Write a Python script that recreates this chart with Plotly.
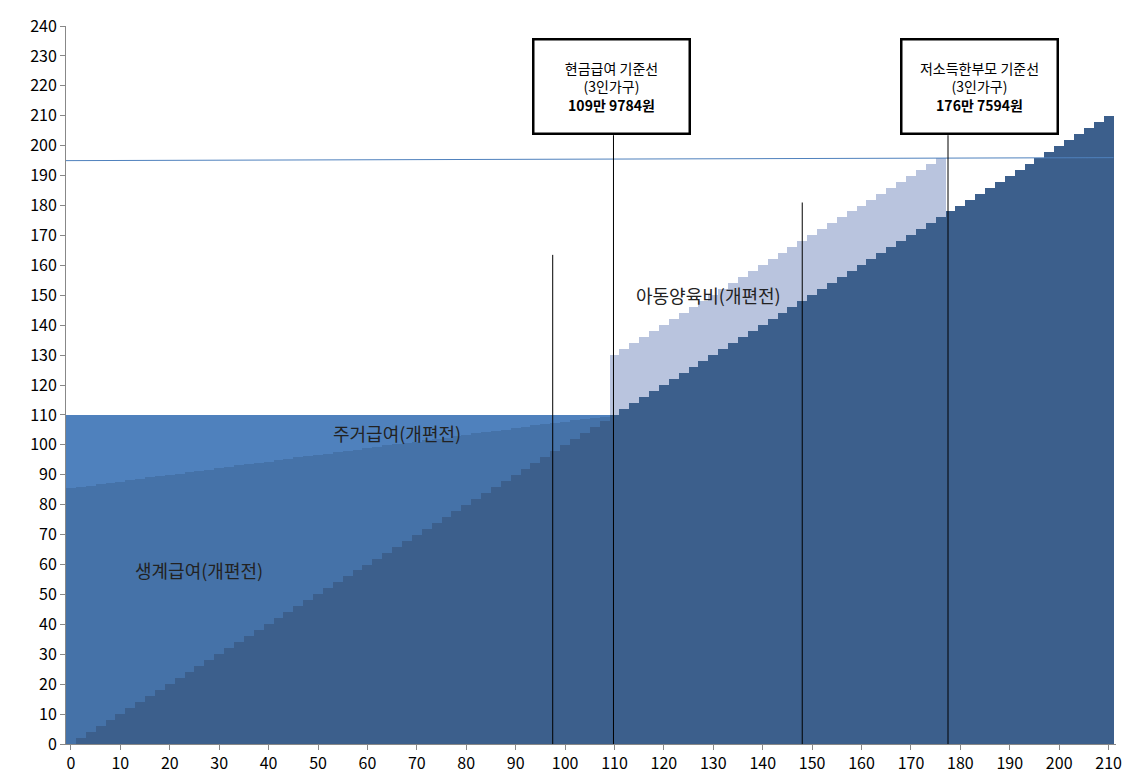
import plotly.graph_objects as go

income = [0,2,4,6,8,10,12,14,16,18,20,22,24,26,28,30,32,34,36,38,40,42,44,46,48,50,52,54,56,58,60,62,64,66,68,70,72,74,76,78,80,82,84,86,88,90,92,94,96,98,100,102,104,106,108,110,112,114,116,118,120,122,124,126,128,130,132,134,136,138,140,142,144,146,148,150,152,154,156,158,160,162,164,166,168,170,172,174,176,178,180,182,184,186,188,190,192,194,196,198,200,202,204,206,208,210]
market = list(income)  # dark base equals market income
livelihood = [85.5,84,82.4,80.8,79.3,77.7,76.2,74.6,73.1,71.5,70,68.4,66.8,65.3,63.7,62.2,60.6,59.1,57.5,56,54.4,52.9,51.3,49.8,48.2,46.7,45.1,43.5,42,40.4,38.9,37.3,35.8,34.2,32.7,31.1,29.6,28,26.4,24.9,23.3,21.8,20.2,18.7,17.1,15.6,14,12.5,10.9,9.4,7.8,6.3,4.7,3.1,1.6] + [0]*51
housing = [24.5,24.1,23.6,23.2,22.7,22.3,21.8,21.4,20.9,20.5,20,19.6,19.1,18.7,18.3,17.8,17.4,16.9,16.5,16,15.6,15.1,14.7,14.2,13.8,13.4,12.9,12.5,12,11.6,11.1,10.7,10.2,9.8,9.3,8.9,8.4,8,7.5,7.1,6.7,6.2,5.8,5.3,4.9,4.4,4,3.5,3.1,2.6,2.2,1.7,1.3,0.8,0.4] + [0]*51
child = [0]*55 + [20]*34 + [0]*17

fig = go.Figure()
for vals, col in [(market, "#3c5f8c"), (livelihood, "#4572a8"), (housing, "#4f81bd"), (child, "#b9c4de")]:
    fig.add_bar(x=income, y=vals, marker=dict(color=col, line=dict(width=0)), width=2, showlegend=False)

fig.add_shape(type="line", x0=-1, x1=211, y0=195, y1=196, line=dict(color="#4f81bd", width=1))
for xv, top in [(97.5, 163.5), (109.8, 203.5), (148, 181), (177.5, 203.5)]:
    fig.add_shape(type="line", x0=xv, x1=xv, y0=0, y1=top, line=dict(color="black", width=1))

lab = dict(size=18, color="#222", family="Noto Sans CJK KR")
fig.add_annotation(x=26, y=58, text="생계급여(개편전)", showarrow=False, font=lab)
fig.add_annotation(x=66, y=104, text="주거급여(개편전)", showarrow=False, font=lab)
fig.add_annotation(x=129, y=150, text="아동양육비(개편전)", showarrow=False, font=lab)
box = dict(showarrow=False, bgcolor="white", bordercolor="black", borderwidth=2.5,
           width=152, height=90, font=dict(size=14, color="black", family="Noto Sans CJK KR"))
fig.add_annotation(x=109.3, y=219.7, text="현금급여 기준선<br>(3인가구)<br><b>109만 9784원</b>", **box)
fig.add_annotation(x=183.8, y=219.7, text="저소득한부모 기준선<br>(3인가구)<br><b>176만 7594원</b>", **box)

fig.update_layout(width=1135, height=781, barmode="stack", bargap=0,
                  plot_bgcolor="white", paper_bgcolor="white",
                  margin=dict(l=58, r=27, t=18, b=45, autoexpand=False),
                  font=dict(family="Noto Sans CJK KR", size=16, color="black"))
fig.update_xaxes(range=[-1, 211.5], tickmode="array", tickvals=list(range(0, 211, 10)),
                 showgrid=False, showline=True, linecolor="#888", ticks="outside", ticklen=5, tickcolor="#888", automargin=False)
fig.update_yaxes(range=[0, 240], tickmode="array", tickvals=list(range(0, 241, 10)),
                 showgrid=False, showline=True, linecolor="#888", ticks="outside", ticklen=5, tickcolor="#888", zeroline=False, automargin=False)
fig.write_html("out.html")
